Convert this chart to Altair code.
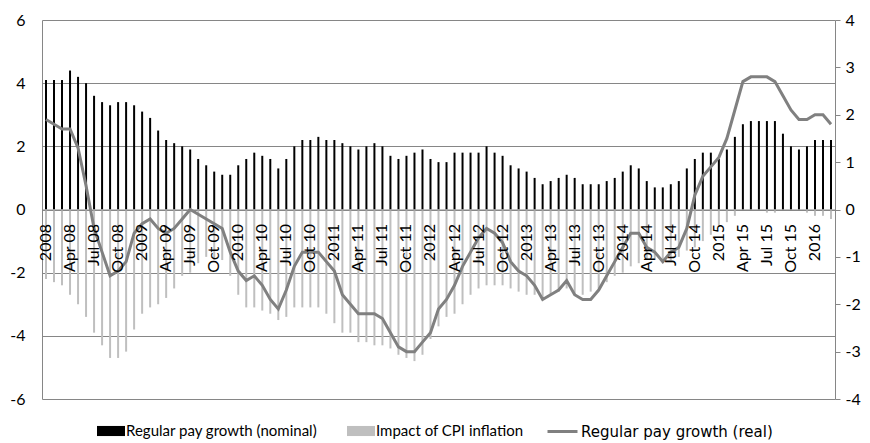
import altair as alt
import pandas as pd

# ---- data (monthly, Jan 2008 - Mar 2016) ----
tick_labels = ["2008", "Apr 08", "Jul 08", "Oct 08", "2009", "Apr 09", "Jul 09", "Oct 09",
               "2010", "Apr 10", "Jul 10", "Oct 10", "2011", "Apr 11", "Jul 11", "Oct 11",
               "2012", "Apr 12", "Jul 12", "Oct 12", "2013", "Apr 13", "Jul 13", "Oct 13",
               "2014", "Apr 14", "Jul 14", "Oct 14", "2015", "Apr 15", "Jul 15", "Oct 15",
               "2016"]

nominal = [4.1, 4.1, 4.1, 4.4, 4.2, 4.0, 3.6, 3.4, 3.3, 3.4, 3.4, 3.3,
           3.1, 2.9, 2.5, 2.2, 2.1, 2.0, 1.9, 1.6, 1.4, 1.2, 1.1, 1.1,
           1.4, 1.6, 1.8, 1.7, 1.6, 1.3, 1.6, 2.0, 2.2, 2.2, 2.3, 2.2,
           2.2, 2.1, 2.0, 1.9, 2.0, 2.1, 2.0, 1.7, 1.6, 1.7, 1.8, 1.9,
           1.6, 1.5, 1.5, 1.8, 1.8, 1.8, 1.8, 2.0, 1.8, 1.7, 1.4, 1.3,
           1.2, 1.0, 0.8, 0.9, 1.0, 1.1, 1.0, 0.8, 0.8, 0.8, 0.9, 1.0,
           1.2, 1.4, 1.3, 0.9, 0.7, 0.7, 0.8, 0.9, 1.3, 1.6, 1.8, 1.8,
           1.6, 1.9, 2.3, 2.7, 2.8, 2.8, 2.8, 2.8, 2.4, 2.0, 1.9, 2.0,
           2.2, 2.2, 2.2]

cpi_impact = [-2.2, -2.3, -2.4, -2.7, -3.0, -3.4, -3.9, -4.3, -4.7, -4.7, -4.5, -3.8,
              -3.3, -3.1, -3.0, -2.8, -2.5, -2.1, -2.0, -1.7, -1.5, -1.6, -1.6, -2.1,
              -2.7, -3.1, -3.1, -3.2, -3.3, -3.5, -3.4, -3.1, -3.1, -3.1, -3.1, -3.3,
              -3.6, -3.9, -3.9, -4.2, -4.2, -4.3, -4.3, -4.4, -4.6, -4.7, -4.8, -4.6,
              -4.1, -3.7, -3.4, -3.3, -3.0, -2.7, -2.5, -2.4, -2.4, -2.4, -2.5, -2.6,
              -2.7, -2.7, -2.8, -2.7, -2.6, -2.5, -2.7, -2.7, -2.6, -2.5, -2.3, -2.1,
              -2.0, -1.8, -1.7, -1.6, -1.6, -1.7, -1.6, -1.5, -1.3, -1.2, -1.0, -0.8,
              -0.5, -0.4, -0.2, 0.0, 0.0, 0.0, -0.1, -0.1, 0.0, 0.0, 0.0, -0.1,
              -0.2, -0.2, -0.3]

real = [1.9, 1.8, 1.7, 1.7, 1.3, 0.5, -0.4, -0.9, -1.4, -1.3, -1.1, -0.5,
        -0.3, -0.2, -0.4, -0.5, -0.4, -0.2, 0.0, -0.1, -0.2, -0.3, -0.4, -0.9,
        -1.3, -1.5, -1.4, -1.6, -1.9, -2.1, -1.7, -1.2, -0.9, -0.9, -0.9, -1.1,
        -1.3, -1.8, -2.0, -2.2, -2.2, -2.2, -2.3, -2.6, -2.9, -3.0, -3.0, -2.8,
        -2.6, -2.1, -1.9, -1.6, -1.2, -0.9, -0.6, -0.4, -0.5, -0.7, -1.1, -1.3,
        -1.4, -1.6, -1.9, -1.8, -1.7, -1.5, -1.8, -1.9, -1.9, -1.7, -1.4, -1.1,
        -0.8, -0.5, -0.5, -0.8, -0.9, -1.1, -0.9, -0.8, -0.4, 0.3, 0.7, 0.9,
        1.1, 1.5, 2.1, 2.7, 2.8, 2.8, 2.8, 2.7, 2.4, 2.1, 1.9, 1.9,
        2.0, 2.0, 1.8]

series_names = ["Regular pay growth (nominal)", "Impact of CPI inflation", "Regular pay growth (real)"]
left_ticks = [-6, -4, -2, 0, 2, 4, 6]
right_ticks = [-4, -3, -2, -1, 0, 1, 2, 3, 4]

# ---- tables ----
idx = list(range(len(nominal)))
bar_df = pd.concat([
    pd.DataFrame({"idx": idx, "value": nominal, "series": series_names[0]}),
    pd.DataFrame({"idx": idx, "value": cpi_impact, "series": series_names[1]}),
])
line_df = pd.DataFrame({"idx": idx, "value": real, "series": series_names[2]})

FONT = "Lato"
FS = 16
GRID = "#868686"
label_expr = "[" + ",".join("'%s'" % t for t in tick_labels) + "][datum.value / 3]"
num_expr = "(datum.value < 0 ? '-' : '') + abs(datum.value)"

x_enc = alt.X(
    "idx:O",
    scale=alt.Scale(paddingInner=0, paddingOuter=0),
    axis=alt.Axis(
        values=list(range(0, len(nominal), 3)),
        labelExpr=label_expr,
        orient="bottom",
        offset=-189.5,
        labelAngle=270,
        labelAlign="right",
        labelBaseline="middle",
        labelPadding=14,
        labelFont=FONT,
        labelFontSize=FS,
        labelColor="#000000",
        labelOverlap=False,
        labelBound=False,
        ticks=False,
        domain=True,
        domainColor=GRID,
        domainWidth=1,
        title=None,
        zindex=1,
    ),
)

bars = alt.Chart(bar_df).mark_bar(size=2).encode(
    x=x_enc,
    y=alt.Y(
        "value:Q",
        stack=None,
        scale=alt.Scale(domain=[-6, 6], nice=False, zero=False),
        axis=alt.Axis(
            values=left_ticks,
            labelExpr=num_expr,
            grid=True,
            gridColor=GRID,
            gridWidth=1,
            domain=True,
            domainColor=GRID,
            ticks=False,
            labelPadding=17,
            labelFont=FONT,
            labelFontSize=FS,
            labelColor="#000000",
            title=None,
        ),
    ),
    fill=alt.Fill(
        "series:N",
        scale=alt.Scale(domain=series_names[:2], range=["#000000", "#BFBFBF"]),
        legend=alt.Legend(
            orient="none",
            legendX=55,
            legendY=397,
            direction="horizontal",
            title=None,
            symbolType="M-1,-0.36H1V0.36H-1Z",
            symbolSize=784,
            symbolStrokeWidth=0,
            labelFont=FONT,
            labelFontSize=15,
            labelColor="#000000",
            labelOffset=1,
            columnPadding=29,
            padding=0,
            labelLimit=400,
        ),
    ),
)

line = alt.Chart(line_df).mark_line(strokeWidth=3).encode(
    x=alt.X("idx:O"),
    y=alt.Y(
        "value:Q",
        scale=alt.Scale(domain=[-4, 4], nice=False, zero=False),
        axis=alt.Axis(
            orient="right",
            values=right_ticks,
            labelExpr=num_expr,
            grid=False,
            domain=True,
            domainColor=GRID,
            ticks=True,
            tickColor=GRID,
            tickSize=5,
            labelPadding=5,
            labelFont=FONT,
            labelFontSize=FS,
            labelColor="#000000",
            title=None,
        ),
    ),
    stroke=alt.Stroke(
        "series:N",
        scale=alt.Scale(domain=series_names[2:], range=["#808080"]),
        legend=alt.Legend(
            orient="none",
            legendX=504,
            legendY=395,
            title=None,
            symbolType="stroke",
            symbolSize=900,
            symbolStrokeWidth=3,
            labelFont="DejaVu Sans",
            labelFontSize=15,
            labelColor="#000000",
            labelOffset=2,
            padding=0,
            labelLimit=400,
        ),
    ),
)

chart = alt.layer(bars, line).resolve_scale(y="independent").properties(
    width=793,
    height=379,
    autosize=alt.AutoSizeParams(type="none"),
    padding={"left": 34, "top": 12, "right": 27, "bottom": 44},
).configure_view(stroke=None)

chart.save("out.html", embed_options={"renderer": "svg", "actions": False})
